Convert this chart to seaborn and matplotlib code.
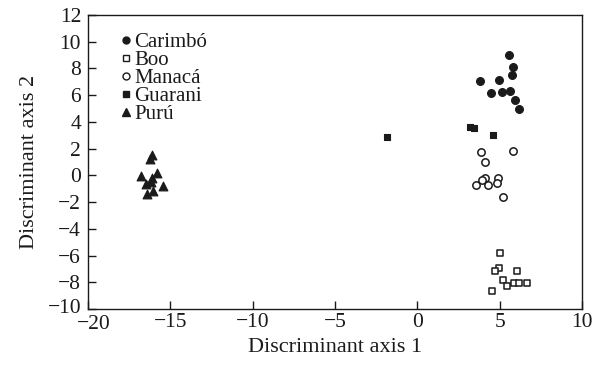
import matplotlib
matplotlib.use("Agg")
import matplotlib.pyplot as plt
import matplotlib.transforms as mtransforms
import seaborn as sns
import pandas as pd
from matplotlib.lines import Line2D

sns.set_theme(style="ticks")
plt.rcParams['font.family'] = ['Liberation Serif', 'DejaVu Serif']
plt.rcParams['axes.unicode_minus'] = True

carimbo_x = [5.58, 5.78, 5.74, 3.82, 4.95, 4.48, 5.13, 5.60, 5.95, 6.19]
carimbo_y = [9.03, 8.09, 7.49, 7.07, 7.12, 6.19, 6.27, 6.29, 5.62, 4.95]
boo_x = [5.05, 4.97, 4.71, 6.06, 5.21, 5.45, 5.88, 6.16, 6.63, 4.54]
boo_y = [-5.79, -6.91, -7.18, -7.13, -7.85, -8.28, -8.08, -8.03, -8.08, -8.63]
manaca_x = [3.88, 5.78, 4.09, 4.12, 3.94, 4.89, 4.83, 3.57, 4.30, 5.23]
manaca_y = [1.77, 1.80, 0.98, -0.19, -0.32, -0.22, -0.57, -0.74, -0.74, -1.64]
guarani_x = [3.17, 3.45, 4.57, -1.82]
guarani_y = [3.62, 3.52, 3.05, 2.85]
puru_x = [-16.13, -16.23, -16.78, -15.79, -16.13, -16.17, -16.48, -15.44, -16.05, -16.44]
puru_y = [1.50, 1.20, -0.04, 0.18, -0.22, -0.52, -0.67, -0.79, -1.14, -1.37]

groups = ["Carimbó", "Boo", "Manacá", "Guarani", "Purú"]
xs = [carimbo_x, boo_x, manaca_x, guarani_x, puru_x]
ys = [carimbo_y, boo_y, manaca_y, guarani_y, puru_y]

INK = "#1a1a1a"
styles = {
    "Carimbó": dict(marker="o", fc=INK, s=32, lw=0.8, ms=5),
    "Boo": dict(marker="s", fc="white", s=24, lw=1.1, ms=4.5),
    "Manacá": dict(marker="o", fc="white", s=28, lw=1.1, ms=5),
    "Guarani": dict(marker="s", fc=INK, s=24, lw=0.8, ms=4.5),
    "Purú": dict(marker="^", fc=INK, s=40, lw=0.8, ms=5.5),
}

df = pd.concat([pd.DataFrame({"x": x, "y": y, "group": g}) for g, x, y in zip(groups, xs, ys)],
               ignore_index=True)

fig = plt.figure(figsize=(6.02, 3.72), dpi=100)
ax = fig.add_axes([88/602, 1 - 309/372, 494/602, 294/372])

for g in groups:
    st = styles[g]
    sub = df[df.group == g]
    sns.scatterplot(data=sub, x="x", y="y", ax=ax, marker=st["marker"], s=st["s"],
                    facecolor=st["fc"], edgecolor=INK, linewidth=st["lw"], legend=False)

ax.set_xlim(-20, 10)
ax.set_ylim(-10, 12)
ax.set_xticks(range(-20, 11, 5))
ax.set_yticks(range(-10, 13, 2))
ax.tick_params(direction="in", length=6, width=1, labelsize=15.5, colors=INK,
               top=False, right=False)
ax.tick_params(axis="x", pad=3)
ax.tick_params(axis="y", pad=5)
for sp in ax.spines.values():
    sp.set_visible(True)
    sp.set_linewidth(1)
    sp.set_color(INK)
ax.set_xlabel("Discriminant axis 1", fontsize=16, color=INK, labelpad=3)
ax.set_ylabel("Discriminant axis 2", fontsize=16, color=INK, labelpad=6)

# small nudges of the corner tick labels so they do not collide
fig.canvas.draw()
xl = ax.get_xticklabels()[0]
xl.set_transform(xl.get_transform() + mtransforms.ScaledTranslation(6/100, -2/100, fig.dpi_scale_trans))
yl = ax.get_yticklabels()[0]
yl.set_transform(yl.get_transform() + mtransforms.ScaledTranslation(0, 3/100, fig.dpi_scale_trans))

handles = []
for g in groups:
    st = styles[g]
    handles.append(Line2D([], [], linestyle="none", marker=st["marker"],
                          markersize=st["ms"], markerfacecolor=st["fc"],
                          markeredgecolor=INK, markeredgewidth=1.0, label=g))
leg = ax.legend(handles=handles, loc="upper left", bbox_to_anchor=(0.068, 0.94),
                frameon=False, fontsize=15, handlelength=0.45, handletextpad=0.15,
                labelspacing=-0.08, borderpad=0, borderaxespad=0)
for t in leg.get_texts():
    t.set_color(INK)

fig.savefig("out.png", dpi=100)
